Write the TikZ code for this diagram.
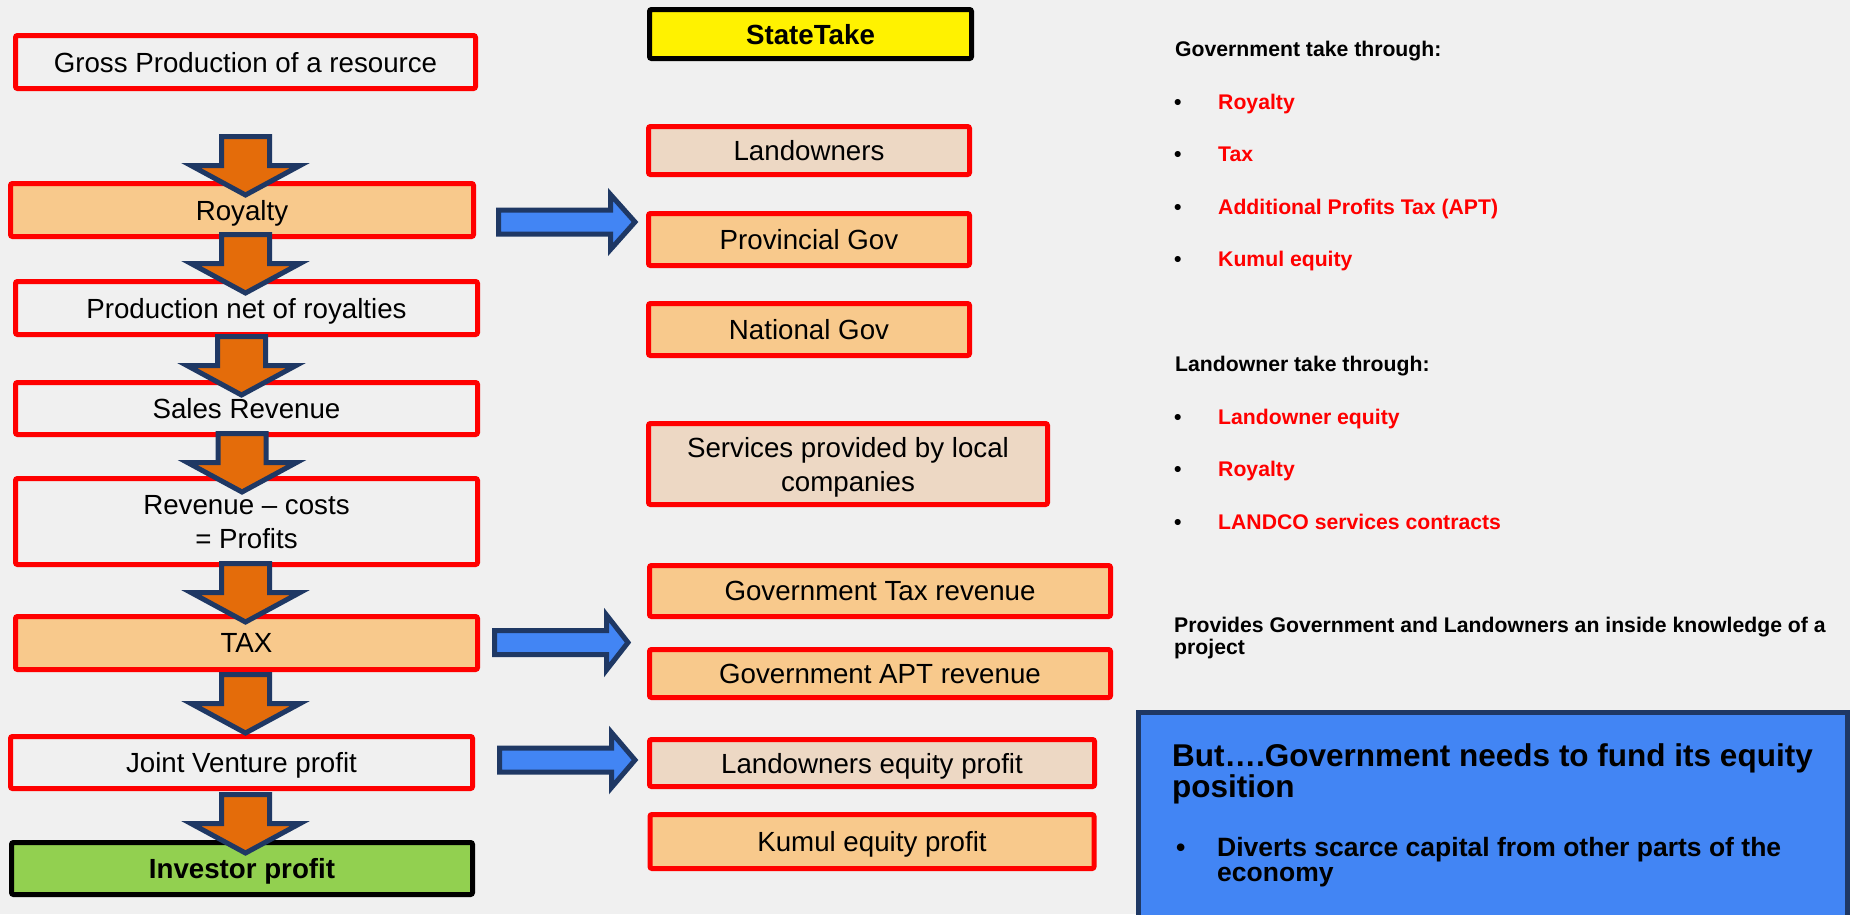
\documentclass[tikz,border=0pt]{standalone}
\usepackage{fontspec}
\setmainfont{Liberation Sans}
\definecolor{bg}{RGB}{240,240,240}
\definecolor{orangefill}{RGB}{248,201,140}
\definecolor{beigefill}{RGB}{237,216,196}
\definecolor{arroworange}{RGB}{228,108,10}
\definecolor{navy}{RGB}{31,56,100}
\definecolor{arrowblue}{RGB}{66,133,244}
\definecolor{fundblue}{RGB}{66,133,244}
\definecolor{investgreen}{RGB}{146,208,80}
\begin{document}
\begin{tikzpicture}[x=1pt,y=-1pt,line join=miter,
  box/.style={draw=red,line width=5pt,rounded corners=2pt,inner sep=0pt,text depth=0pt,align=center,font=\fontsize{27.7}{34}\selectfont},
  txt/.style={inner sep=0pt,anchor=base west,align=left,font=\fontsize{21.2}{21.5}\selectfont\bfseries},
  item/.style={txt,text=red},
  downarrow/.style={draw=navy,line width=5pt,fill=arroworange},
  rightarrow/.style={draw=navy,line width=5pt,fill=arrowblue}]
\useasboundingbox (0,0) rectangle (1850,914);
\fill[bg] (0,0) rectangle (1850,914);
\clip (0,0) rectangle (1850,914);
\node[box,minimum width=460pt,minimum height=53pt] (gross) at (245.5,62) {Gross Production of a resource};
\node[box,fill=orangefill,minimum width=463pt,minimum height=53pt] (royalty) at (242,210) {Royalty};
\node[box,minimum width=462pt,minimum height=53pt] (netprod) at (246.5,308) {Production net of royalties};
\node[box,minimum width=462pt,minimum height=52pt] (sales) at (246.5,408.5) {Sales Revenue};
\node[box,minimum width=462pt,minimum height=86pt] (profits) at (246.5,521.5) {Revenue – costs\\= Profits};
\node[box,fill=orangefill,minimum width=462pt,minimum height=53pt] (tax) at (246.5,643) {TAX};
\node[box,minimum width=462pt,minimum height=52pt] (jvprofit) at (241.5,762.5) {Joint Venture profit};
\node[box,draw=black,fill=investgreen,minimum width=461pt,minimum height=52pt] (investor) at (242,868.5) {\bfseries Investor profit};
\node[box,draw=black,fill=yellow,minimum width=322pt,minimum height=49pt] (statetake) at (810.5,34) {\bfseries StateTake};
\node[box,fill=beigefill,minimum width=321pt,minimum height=48pt] (landowners) at (809,150.5) {Landowners};
\node[box,fill=orangefill,minimum width=321pt,minimum height=52pt] (provgov) at (809,239.5) {Provincial Gov};
\node[box,fill=orangefill,minimum width=321pt,minimum height=52pt] (natgov) at (809,329.5) {National Gov};
\node[box,fill=beigefill,minimum width=399pt,minimum height=81pt] (services) at (848,464) {Services provided by local\\companies};
\node[box,fill=orangefill,minimum width=461pt,minimum height=51pt] (govtax) at (880,591) {Government Tax revenue};
\node[box,fill=orangefill,minimum width=461pt,minimum height=48pt] (govapt) at (880,673.5) {Government APT revenue};
\node[box,fill=beigefill,minimum width=445pt,minimum height=47pt] (landequity) at (872,763) {Landowners equity profit};
\node[box,fill=orangefill,minimum width=444pt,minimum height=54pt] (kumul) at (872,841.5) {Kumul equity profit};
\foreach \xc/\yt in {245.5/136.5,245.5/234.5,241.5/336.5,242/433.5,245.5/563.5,245.5/674.5,245.5/794.5}
\draw[downarrow](\xc-24,\yt)--(\xc+24,\yt)--(\xc+24,\yt+29)--(\xc+54.5,\yt+29)--(\xc,\yt+58.5)--(\xc-54.5,\yt+29)--(\xc-24,\yt+29)--cycle;
\foreach \xl/\yc/\xb/\xt in {498.5/222/610.5/635,494.5/642.5/606.5/628,499.5/760/611.5/635}
\draw[rightarrow](\xl,\yc-12)--(\xb,\yc-12)--(\xb,\yc-27.5)--(\xt,\yc)--(\xb,\yc+27.5)--(\xb,\yc+12)--(\xl,\yc+12)--cycle;
\node[txt] (govhead) at (1175,56.7) {Government take through:};
\foreach \t [count=\i] in {Royalty,Tax,Additional Profits Tax (APT),Kumul equity}{
\node[txt] (govdot\i) at (1174,56.5+52.5*\i) {•};
\node[item] (govitem\i) at (1218,56.5+52.5*\i) {\t};}
\node[txt] (landhead) at (1175,371.7) {Landowner take through:};
\foreach \t [count=\i] in {Landowner equity,Royalty,LANDCO services contracts}{
\node[txt] (landdot\i) at (1174,371.5+52.5*\i) {•};
\node[item] (landitem\i) at (1218,371.5+52.5*\i) {\t};}
\node[txt] (insight) at (1174,654) {Provides Government and Landowners an inside knowledge of a\\project};
\node[draw=navy,fill=fundblue,line width=5pt,inner sep=0pt,anchor=north west,minimum width=709pt,minimum height=215pt] (fundbox) at (1135.5,709.5) {};
\node[txt,font=\fontsize{31.5}{30.5}\selectfont\bfseries] (fundtitle) at (1172,797) {But….Government needs to fund its equity\\position};
\node[txt,font=\fontsize{26.5}{24.3}\selectfont\bfseries] (funddot) at (1176,856.7) {•};
\node[txt,font=\fontsize{26.5}{24.3}\selectfont\bfseries] (fundtext) at (1217,881) {Diverts scarce capital from other parts of the\\economy};
\end{tikzpicture}
\end{document}
